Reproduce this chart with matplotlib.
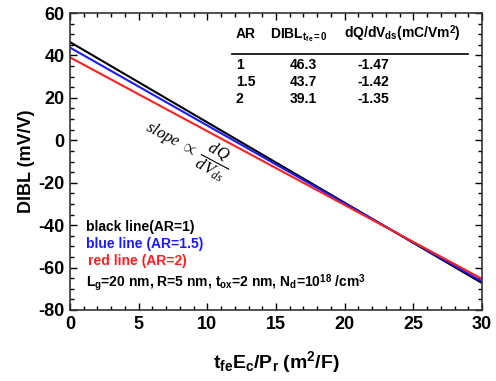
import matplotlib
matplotlib.use("Agg")
import matplotlib.pyplot as plt
from matplotlib.ticker import MultipleLocator
from matplotlib.lines import Line2D

plt.rcParams.update({
    'font.family': ['Liberation Sans', 'DejaVu Sans'],
    'font.weight': 'normal',
    'axes.unicode_minus': False,
    'mathtext.fontset': 'custom',
    'mathtext.rm': 'Liberation Sans:bold',
    'mathtext.bf': 'Liberation Sans:bold',
    'mathtext.it': 'Liberation Serif:italic',
    'mathtext.sf': 'Liberation Sans:bold',
})

# data
x_vals = [0, 30]
ar_labels = ['1', '1.5', '2']
dibl0 = [46.3, 43.7, 39.1]
dqdv = ['-1.47', '-1.42', '-1.35']
y_black = [46.3, -67.3]
y_blue = [43.7, -66.5]
y_red = [39.1, -65.3]
colors = ['black', '#1a1aff', '#ff2020']

W, H = 496, 381
fig = plt.figure(figsize=(W/100, H/100), dpi=100)
ax = fig.add_axes([70/W, 1-310/H, 412/W, 297/H])

for yv, c in zip([y_black, y_blue, y_red], colors):
    ax.plot(x_vals, yv, color=c, lw=1.5)

ax.set_xlim(0, 30)
ax.set_ylim(-80, 60)
ax.xaxis.set_major_locator(MultipleLocator(5))
ax.xaxis.set_minor_locator(MultipleLocator(1))
ax.yaxis.set_major_locator(MultipleLocator(20))
ax.yaxis.set_minor_locator(MultipleLocator(5))
ax.tick_params(which='both', direction='in', top=True, right=True, width=1)
ax.tick_params(which='major', length=5, labelsize=13, pad=4)
ax.tick_params(which='minor', length=3)
for s in ax.spines.values():
    s.set_linewidth(1.2)
    s.set_color('#333333')
for lab in ax.get_xticklabels() + ax.get_yticklabels():
    lab.set_fontweight('bold')

ax.set_xlabel(r'$\mathrm{t_{fe}E_c/P_r\ (m^2/F)}$', fontsize=14, labelpad=12)
ax.set_ylabel('DIBL (mV/V)', fontsize=13, fontweight='bold', labelpad=2)

def ft(px, py, s, **kw):
    fig.text(px/W, 1-py/H, s, **kw)

# table
ft(236, 38, 'AR', fontsize=10, fontweight='bold', va='baseline')
ft(270, 38, r'DIBL$_{\mathrm{t_{fe}=0}}$', fontsize=10, fontweight='bold', va='baseline')
ft(344, 38, r'dQ/dV$_{\mathrm{ds}}$(mC/Vm$^{\mathrm{2}}$)', fontsize=10, fontweight='bold', va='baseline')
fig.add_artist(Line2D([232/W, 468/W], [1-54/H, 1-54/H], color='black', lw=1.2))
for i, (a, d, q) in enumerate(zip(ar_labels, dibl0, dqdv)):
    py = 69 + 17*i
    ft(236, py, a, fontsize=10, fontweight='bold', va='baseline')
    ft(290, py, f'{d:.1f}', fontsize=10, fontweight='bold', va='baseline')
    ft(357, py, q, fontsize=10, fontweight='bold', va='baseline')

# legend-like text
ft(86, 231, 'black line(AR=1)', fontsize=10, fontweight='bold', color='black', va='baseline')
ft(86, 248, 'blue line (AR=1.5)', fontsize=10, fontweight='bold', color=colors[1], va='baseline')
ft(88, 265, 'red line (AR=2)', fontsize=10, fontweight='bold', color=colors[2], va='baseline')
ft(86, 287, r'L$_{\mathrm{g}}$=20 nm, R=5 nm, t$_{\mathrm{ox}}$=2 nm, N$_{\mathrm{d}}$=10$^{\mathrm{18}}$ /cm$^{\mathrm{3}}$',
   fontsize=10, fontweight='bold', va='baseline')

# slope annotation
ft(188, 147, r'$slope\ \propto\ \dfrac{dQ}{dV_{ds}}$', fontsize=12, fontweight='normal',
   rotation=-28, ha='center', va='center', rotation_mode='anchor')

fig.savefig('out.png', dpi=100)
